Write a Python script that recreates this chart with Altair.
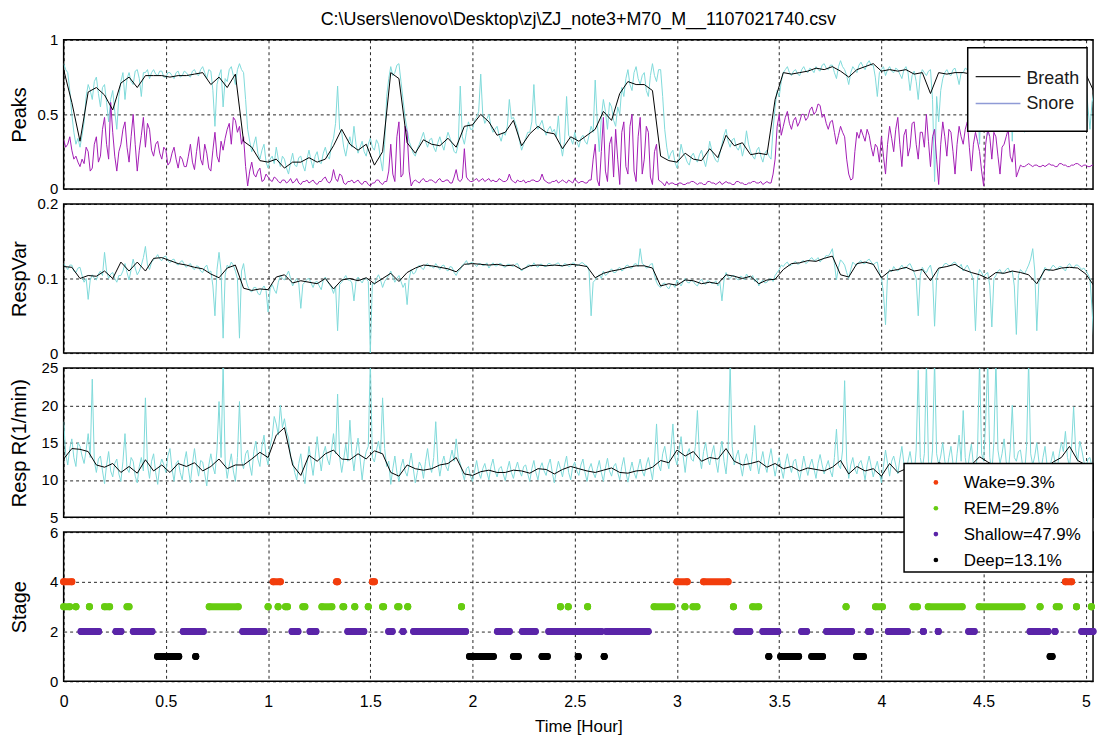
import altair as alt
import pandas as pd

FONT = "Liberation Sans"
FILE_TITLE = r"C:\Users\lenovo\Desktop\zj\ZJ_note3+M70_M__1107021740.csv"

RAW_STEP = 0.01      # hours between raw samples
SMOOTH_STEP = 0.04   # hours between smoothed samples
X_MAX = 5.035
X_TICKS = [0, 0.5, 1, 1.5, 2, 2.5, 3, 3.5, 4, 4.5, 5]

# ---------------- Peaks (one row = 0.2 h) ----------------
peaks_breath_raw = [
    0.84, 0.80, 0.78, 0.66, 0.50, 0.38, 0.30, 0.34, 0.28, 0.36, 0.45, 0.62, 0.70, 0.66, 0.60, 0.72, 0.75, 0.64, 0.55, 0.68,
    0.70, 0.58, 0.45, 0.60, 0.66, 0.52, 0.40, 0.62, 0.72, 0.78, 0.60, 0.74, 0.78, 0.72, 0.70, 0.79, 0.80, 0.74, 0.62, 0.78,
    0.78, 0.80, 0.74, 0.78, 0.80, 0.77, 0.76, 0.79, 0.79, 0.75, 0.75, 0.78, 0.78, 0.76, 0.74, 0.78, 0.79, 0.75, 0.76, 0.79,
    0.78, 0.76, 0.75, 0.79, 0.80, 0.77, 0.76, 0.80, 0.82, 0.78, 0.74, 0.80, 0.79, 0.66, 0.42, 0.70, 0.76, 0.80, 0.55, 0.74,
    0.72, 0.80, 0.82, 0.76, 0.70, 0.80, 0.84, 0.80, 0.78, 0.60, 0.40, 0.32, 0.25, 0.30, 0.35, 0.24, 0.20, 0.26, 0.30, 0.18,
    0.14, 0.20, 0.22, 0.17, 0.28, 0.20, 0.15, 0.22, 0.20, 0.14, 0.10, 0.18, 0.24, 0.16, 0.15, 0.21, 0.22, 0.16, 0.12, 0.20,
    0.26, 0.19, 0.14, 0.22, 0.25, 0.18, 0.17, 0.24, 0.28, 0.22, 0.20, 0.30, 0.34, 0.44, 0.69, 0.40, 0.38, 0.28, 0.22, 0.30,
    0.35, 0.28, 0.42, 0.30, 0.24, 0.28, 0.32, 0.25, 0.22, 0.30, 0.34, 0.28, 0.26, 0.33, 0.30, 0.20, 0.12, 0.30, 0.62, 0.74,
    0.82, 0.76, 0.78, 0.83, 0.84, 0.72, 0.60, 0.48, 0.40, 0.32, 0.28, 0.24, 0.22, 0.27, 0.30, 0.34, 0.38, 0.32, 0.28, 0.33,
    0.34, 0.28, 0.25, 0.31, 0.35, 0.30, 0.26, 0.33, 0.38, 0.34, 0.30, 0.25, 0.24, 0.30, 0.69, 0.35, 0.30, 0.38, 0.45, 0.40,
    0.40, 0.46, 0.48, 0.52, 0.77, 0.50, 0.44, 0.47, 0.50, 0.42, 0.38, 0.40, 0.42, 0.36, 0.32, 0.38, 0.36, 0.42, 0.60, 0.47,
    0.48, 0.44, 0.40, 0.32, 0.26, 0.30, 0.34, 0.38, 0.38, 0.45, 0.70, 0.44, 0.40, 0.43, 0.46, 0.40, 0.36, 0.40, 0.42, 0.38,
    0.40, 0.35, 0.49, 0.30, 0.22, 0.32, 0.62, 0.36, 0.34, 0.30, 0.38, 0.32, 0.28, 0.34, 0.36, 0.32, 0.30, 0.36, 0.42, 0.38,
    0.73, 0.45, 0.25, 0.48, 0.60, 0.52, 0.40, 0.58, 0.55, 0.46, 0.42, 0.55, 0.50, 0.68, 0.62, 0.74, 0.80, 0.70, 0.66, 0.78,
    0.82, 0.74, 0.70, 0.76, 0.78, 0.66, 0.62, 0.76, 0.84, 0.76, 0.72, 0.80, 0.80, 0.62, 0.40, 0.28, 0.20, 0.24, 0.26, 0.18,
    0.14, 0.20, 0.30, 0.24, 0.22, 0.18, 0.16, 0.22, 0.24, 0.20, 0.18, 0.23, 0.26, 0.20, 0.15, 0.22, 0.32, 0.26, 0.22, 0.19,
    0.18, 0.24, 0.30, 0.36, 0.40, 0.32, 0.28, 0.33, 0.34, 0.28, 0.26, 0.30, 0.22, 0.28, 0.39, 0.30, 0.25, 0.22, 0.20, 0.26,
    0.28, 0.22, 0.18, 0.24, 0.26, 0.22, 0.20, 0.40, 0.55, 0.66, 0.62, 0.72, 0.78, 0.80, 0.82, 0.78, 0.76, 0.79, 0.80, 0.77,
    0.76, 0.80, 0.82, 0.79, 0.78, 0.81, 0.80, 0.78, 0.82, 0.80, 0.79, 0.83, 0.84, 0.81, 0.80, 0.83, 0.83, 0.78, 0.74, 0.82,
    0.86, 0.82, 0.80, 0.76, 0.70, 0.78, 0.82, 0.80, 0.78, 0.83, 0.85, 0.82, 0.80, 0.84, 0.86, 0.83, 0.83, 0.75, 0.62, 0.78,
    0.80, 0.82, 0.76, 0.80, 0.82, 0.79, 0.78, 0.81, 0.80, 0.77, 0.74, 0.80, 0.82, 0.78, 0.66, 0.76, 0.79, 0.72, 0.60, 0.76,
    0.80, 0.78, 0.76, 0.79, 0.80, 0.60, 0.05, 0.62, 0.45, 0.66, 0.74, 0.78, 0.80, 0.77, 0.76, 0.80, 0.81, 0.76, 0.70, 0.78,
    0.78, 0.81, 0.80, 0.77, 0.76, 0.80, 0.80, 0.62, 0.30, 0.72, 0.80, 0.58, 0.36, 0.74, 0.78, 0.80, 0.80, 0.64, 0.45, 0.76,
    0.78, 0.80, 0.82, 0.66, 0.32, 0.70, 0.79, 0.81, 0.80, 0.62, 0.38, 0.72, 0.78, 0.80, 0.80, 0.77, 0.76, 0.79, 0.80, 0.78,
    0.78, 0.80, 0.80, 0.77, 0.76, 0.79, 0.79, 0.81, 0.80, 0.78, 0.78, 0.80, 0.76, 0.79, 0.80, 0.77, 0.78, 0.80, 0.80, 0.76,
    0.72, 0.55, 0.40, 0.58, 0.66,
]
peaks_snore_raw = [
    0.33, 0.28, 0.30, 0.35, 0.26, 0.20, 0.22, 0.18, 0.15, 0.20, 0.17, 0.28, 0.25, 0.12, 0.14, 0.30, 0.35, 0.18, 0.22, 0.40,
    0.48, 0.30, 0.20, 0.58, 0.38, 0.22, 0.12, 0.25, 0.30, 0.40, 0.45, 0.28, 0.18, 0.35, 0.50, 0.30, 0.12, 0.26, 0.36, 0.48,
    0.28, 0.44, 0.40, 0.26, 0.22, 0.30, 0.32, 0.24, 0.20, 0.28, 0.26, 0.16, 0.18, 0.24, 0.28, 0.20, 0.14, 0.22, 0.20, 0.15,
    0.15, 0.22, 0.30, 0.18, 0.13, 0.25, 0.35, 0.20, 0.16, 0.30, 0.24, 0.14, 0.12, 0.26, 0.38, 0.22, 0.18, 0.32, 0.26, 0.34,
    0.40, 0.44, 0.30, 0.48, 0.46, 0.38, 0.42, 0.30, 0.35, 0.15, 0.02, 0.12, 0.18, 0.10, 0.08, 0.12, 0.14, 0.05, 0.06, 0.10,
    0.08, 0.06, 0.05, 0.08, 0.07, 0.05, 0.04, 0.06, 0.06, 0.04, 0.05, 0.07, 0.04, 0.05, 0.07, 0.04, 0.03, 0.05, 0.05, 0.06,
    0.04, 0.05, 0.06, 0.04, 0.03, 0.05, 0.05, 0.07, 0.08, 0.05, 0.04, 0.06, 0.13, 0.07, 0.05, 0.10, 0.09, 0.04, 0.03, 0.05,
    0.05, 0.06, 0.04, 0.05, 0.06, 0.04, 0.03, 0.05, 0.05, 0.03, 0.02, 0.04, 0.04, 0.06, 0.06, 0.04, 0.03, 0.05, 0.05, 0.12,
    0.30, 0.10, 0.05, 0.35, 0.45, 0.08, 0.10, 0.42, 0.38, 0.12, 0.02, 0.05, 0.06, 0.05, 0.04, 0.06, 0.07, 0.05, 0.05, 0.06,
    0.06, 0.05, 0.04, 0.06, 0.07, 0.05, 0.05, 0.06, 0.06, 0.04, 0.04, 0.08, 0.13, 0.06, 0.05, 0.07, 0.27, 0.08, 0.06, 0.05,
    0.05, 0.06, 0.07, 0.05, 0.06, 0.07, 0.05, 0.06, 0.07, 0.05, 0.06, 0.05, 0.05, 0.07, 0.06, 0.05, 0.05, 0.06, 0.10, 0.06,
    0.05, 0.04, 0.06, 0.05, 0.05, 0.06, 0.04, 0.05, 0.05, 0.06, 0.06, 0.05, 0.05, 0.06, 0.10, 0.06, 0.05, 0.04, 0.04, 0.05,
    0.05, 0.06, 0.04, 0.05, 0.06, 0.05, 0.04, 0.06, 0.05, 0.04, 0.07, 0.05, 0.04, 0.05, 0.05, 0.04, 0.04, 0.06, 0.06, 0.20,
    0.30, 0.06, 0.02, 0.25, 0.48, 0.12, 0.05, 0.30, 0.35, 0.08, 0.40, 0.20, 0.03, 0.38, 0.45, 0.15, 0.10, 0.42, 0.50, 0.12,
    0.05, 0.35, 0.48, 0.10, 0.20, 0.42, 0.38, 0.08, 0.03, 0.25, 0.30, 0.06, 0.05, 0.04, 0.02, 0.05, 0.03, 0.04, 0.04, 0.03,
    0.03, 0.04, 0.04, 0.03, 0.03, 0.04, 0.04, 0.05, 0.05, 0.04, 0.03, 0.04, 0.04, 0.03, 0.03, 0.05, 0.05, 0.04, 0.04, 0.03,
    0.04, 0.05, 0.03, 0.04, 0.05, 0.04, 0.04, 0.03, 0.03, 0.05, 0.05, 0.04, 0.04, 0.03, 0.03, 0.04, 0.04, 0.05, 0.05, 0.04,
    0.04, 0.05, 0.03, 0.04, 0.05, 0.04, 0.04, 0.10, 0.20, 0.42, 0.50, 0.36, 0.42, 0.48, 0.52, 0.44, 0.40, 0.46, 0.48, 0.42,
    0.45, 0.50, 0.50, 0.46, 0.48, 0.53, 0.55, 0.50, 0.52, 0.57, 0.56, 0.48, 0.50, 0.44, 0.40, 0.45, 0.46, 0.38, 0.30, 0.36,
    0.42, 0.38, 0.35, 0.20, 0.10, 0.06, 0.07, 0.25, 0.38, 0.34, 0.40, 0.36, 0.32, 0.40, 0.36, 0.28, 0.22, 0.30, 0.28, 0.18,
    0.35, 0.22, 0.10, 0.30, 0.42, 0.34, 0.25, 0.40, 0.48, 0.30, 0.15, 0.36, 0.40, 0.22, 0.28, 0.44, 0.45, 0.30, 0.20, 0.38,
    0.38, 0.28, 0.50, 0.32, 0.15, 0.35, 0.40, 0.20, 0.03, 0.30, 0.45, 0.35, 0.22, 0.40, 0.38, 0.25, 0.10, 0.30, 0.42, 0.35,
    0.30, 0.40, 0.45, 0.28, 0.12, 0.30, 0.38, 0.32, 0.25, 0.12, 0.02, 0.30, 0.40, 0.35, 0.20, 0.38, 0.35, 0.22, 0.10, 0.28,
    0.30, 0.35, 0.40, 0.22, 0.18, 0.30, 0.08, 0.12, 0.16, 0.15, 0.15, 0.16, 0.17, 0.16, 0.15, 0.16, 0.16, 0.15, 0.15, 0.16,
    0.15, 0.16, 0.17, 0.16, 0.16, 0.15, 0.15, 0.17, 0.17, 0.16, 0.16, 0.15, 0.15, 0.16, 0.16, 0.17, 0.17, 0.16, 0.15, 0.16,
    0.16, 0.15, 0.15, 0.16, 0.16,
]
peaks_breath_smooth = [
    0.80, 0.58, 0.32, 0.65, 0.68, 0.63, 0.53, 0.71, 0.75, 0.68,
    0.76, 0.76, 0.76, 0.75, 0.76, 0.76, 0.77, 0.78, 0.70, 0.75,
    0.68, 0.77, 0.32, 0.28, 0.19, 0.18, 0.20, 0.14, 0.18, 0.18,
    0.21, 0.18, 0.20, 0.29, 0.40, 0.30, 0.26, 0.30, 0.16, 0.25,
    0.78, 0.74, 0.31, 0.24, 0.33, 0.30, 0.29, 0.34, 0.28, 0.42,
    0.43, 0.50, 0.45, 0.36, 0.38, 0.46, 0.29, 0.37, 0.42, 0.38,
    0.37, 0.27, 0.35, 0.32, 0.36, 0.40, 0.52, 0.46, 0.64, 0.72,
    0.70, 0.70, 0.66, 0.22, 0.19, 0.18, 0.24, 0.20, 0.19, 0.27,
    0.21, 0.36, 0.29, 0.31, 0.23, 0.24, 0.23, 0.60, 0.78, 0.77,
    0.78, 0.79, 0.81, 0.80, 0.82, 0.79, 0.75, 0.80, 0.82, 0.84,
    0.79, 0.80, 0.79, 0.80, 0.77, 0.78, 0.64, 0.78, 0.77, 0.78,
    0.78, 0.77, 0.79, 0.78, 0.77, 0.79, 0.78, 0.77, 0.78, 0.79,
    0.78, 0.77, 0.78, 0.79, 0.78, 0.77, 0.65,
]

# ---------------- RespVar ----------------
respvar_raw = [
    0.120, 0.116, 0.112, 0.118, 0.118, 0.110, 0.108, 0.114, 0.115, 0.104, 0.095, 0.100, 0.072, 0.098, 0.105, 0.100, 0.098, 0.106, 0.110, 0.104,
    0.135, 0.110, 0.100, 0.106, 0.108, 0.100, 0.095, 0.104, 0.104, 0.110, 0.120, 0.108, 0.098, 0.112, 0.126, 0.114, 0.105, 0.110, 0.118, 0.128,
    0.143, 0.118, 0.112, 0.122, 0.125, 0.128, 0.132, 0.126, 0.124, 0.129, 0.130, 0.124, 0.121, 0.125, 0.126, 0.120, 0.118, 0.122, 0.124, 0.119,
    0.115, 0.118, 0.120, 0.114, 0.112, 0.117, 0.116, 0.110, 0.108, 0.115, 0.118, 0.108, 0.110, 0.090, 0.050, 0.112, 0.135, 0.110, 0.020, 0.105,
    0.118, 0.115, 0.122, 0.118, 0.110, 0.100, 0.020, 0.110, 0.120, 0.100, 0.090, 0.084, 0.082, 0.088, 0.088, 0.080, 0.078, 0.086, 0.090, 0.084,
    0.055, 0.086, 0.092, 0.085, 0.080, 0.095, 0.104, 0.100, 0.098, 0.104, 0.110, 0.100, 0.090, 0.096, 0.100, 0.094, 0.060, 0.092, 0.095, 0.099,
    0.100, 0.094, 0.088, 0.095, 0.096, 0.090, 0.085, 0.098, 0.102, 0.096, 0.092, 0.088, 0.080, 0.090, 0.030, 0.092, 0.095, 0.100, 0.104, 0.098,
    0.098, 0.094, 0.070, 0.096, 0.102, 0.098, 0.094, 0.100, 0.100, 0.096, 0.000, 0.094, 0.092, 0.100, 0.105, 0.098, 0.088, 0.096, 0.100, 0.104,
    0.110, 0.102, 0.095, 0.100, 0.104, 0.096, 0.088, 0.094, 0.065, 0.100, 0.112, 0.106, 0.108, 0.115, 0.118, 0.114, 0.112, 0.118, 0.120, 0.116,
    0.116, 0.114, 0.120, 0.116, 0.112, 0.117, 0.118, 0.112, 0.110, 0.116, 0.115, 0.108, 0.104, 0.110, 0.112, 0.118, 0.120, 0.124, 0.118, 0.121,
    0.122, 0.119, 0.116, 0.120, 0.120, 0.117, 0.118, 0.121, 0.114, 0.118, 0.121, 0.117, 0.117, 0.120, 0.120, 0.116, 0.115, 0.119, 0.119, 0.117,
    0.116, 0.119, 0.120, 0.114, 0.110, 0.113, 0.114, 0.118, 0.118, 0.116, 0.121, 0.117, 0.115, 0.119, 0.119, 0.116, 0.116, 0.120, 0.120, 0.117,
    0.118, 0.120, 0.121, 0.117, 0.116, 0.120, 0.119, 0.116, 0.117, 0.121, 0.120, 0.117, 0.118, 0.121, 0.121, 0.118, 0.117, 0.110, 0.050, 0.095,
    0.098, 0.102, 0.105, 0.100, 0.110, 0.104, 0.106, 0.110, 0.113, 0.108, 0.108, 0.113, 0.115, 0.110, 0.112, 0.117, 0.118, 0.114, 0.114, 0.119,
    0.120, 0.116, 0.140, 0.120, 0.118, 0.114, 0.115, 0.119, 0.120, 0.104, 0.095, 0.090, 0.088, 0.093, 0.094, 0.089, 0.086, 0.092, 0.092, 0.088,
    0.098, 0.094, 0.090, 0.096, 0.100, 0.095, 0.094, 0.098, 0.096, 0.092, 0.090, 0.096, 0.099, 0.094, 0.092, 0.097, 0.096, 0.093, 0.094, 0.097,
    0.090, 0.095, 0.070, 0.098, 0.108, 0.102, 0.100, 0.104, 0.104, 0.100, 0.098, 0.103, 0.102, 0.098, 0.106, 0.102, 0.100, 0.104, 0.096, 0.100,
    0.090, 0.095, 0.098, 0.094, 0.095, 0.099, 0.100, 0.096, 0.104, 0.108, 0.112, 0.118, 0.116, 0.120, 0.122, 0.117, 0.118, 0.121, 0.123, 0.119,
    0.120, 0.123, 0.124, 0.120, 0.122, 0.126, 0.128, 0.124, 0.125, 0.128, 0.122, 0.126, 0.127, 0.131, 0.130, 0.134, 0.140, 0.120, 0.098, 0.115,
    0.125, 0.122, 0.118, 0.108, 0.100, 0.112, 0.122, 0.119, 0.118, 0.122, 0.124, 0.120, 0.120, 0.124, 0.126, 0.122, 0.118, 0.121, 0.122, 0.108,
    0.100, 0.080, 0.038, 0.105, 0.112, 0.109, 0.116, 0.112, 0.110, 0.114, 0.118, 0.113, 0.114, 0.118, 0.120, 0.114, 0.108, 0.100, 0.050, 0.104,
    0.115, 0.110, 0.108, 0.114, 0.118, 0.104, 0.036, 0.100, 0.112, 0.114, 0.116, 0.120, 0.120, 0.117, 0.118, 0.121, 0.122, 0.118, 0.115, 0.119,
    0.110, 0.114, 0.118, 0.112, 0.106, 0.098, 0.030, 0.100, 0.112, 0.108, 0.102, 0.106, 0.108, 0.090, 0.035, 0.100, 0.104, 0.110, 0.112, 0.106,
    0.108, 0.112, 0.114, 0.108, 0.110, 0.090, 0.025, 0.104, 0.112, 0.109, 0.106, 0.112, 0.118, 0.126, 0.140, 0.110, 0.030, 0.095, 0.100, 0.108,
    0.115, 0.112, 0.110, 0.114, 0.118, 0.115, 0.112, 0.116, 0.116, 0.113, 0.110, 0.117, 0.120, 0.116, 0.114, 0.118, 0.118, 0.115, 0.112, 0.114,
    0.110, 0.106, 0.100, 0.060, 0.010,
]
respvar_smooth = [
    0.116, 0.115, 0.100, 0.104, 0.103, 0.110, 0.100, 0.122, 0.110, 0.122,
    0.110, 0.127, 0.128, 0.124, 0.120, 0.118, 0.115, 0.113, 0.106, 0.101,
    0.114, 0.118, 0.087, 0.084, 0.086, 0.085, 0.102, 0.105, 0.094, 0.097,
    0.095, 0.093, 0.100, 0.086, 0.098, 0.100, 0.097, 0.101, 0.093, 0.100,
    0.107, 0.096, 0.108, 0.114, 0.118, 0.117, 0.115, 0.113, 0.109, 0.119,
    0.120, 0.119, 0.118, 0.119, 0.117, 0.118, 0.112, 0.117, 0.118, 0.117,
    0.118, 0.117, 0.119, 0.118, 0.116, 0.101, 0.107, 0.110, 0.112, 0.115,
    0.117, 0.117, 0.114, 0.090, 0.093, 0.091, 0.098, 0.097, 0.093, 0.095,
    0.093, 0.105, 0.103, 0.100, 0.103, 0.093, 0.098, 0.099, 0.112, 0.120,
    0.121, 0.124, 0.123, 0.127, 0.130, 0.105, 0.102, 0.120, 0.122, 0.119,
    0.101, 0.110, 0.112, 0.115, 0.110, 0.112, 0.097, 0.114, 0.116, 0.119,
    0.112, 0.108, 0.105, 0.100, 0.108, 0.107, 0.110, 0.108, 0.105, 0.093,
    0.112, 0.111, 0.114, 0.115, 0.114, 0.106, 0.090,
]

# ---------------- Respiration rate (1/min) ----------------
resprate_raw = [
    17.8, 13.5, 12.0, 14.2, 15.5, 13.0, 11.8, 15.0, 14.5, 13.2, 12.2, 14.0, 16.2, 13.0, 23.5, 12.5, 11.0, 12.8, 13.2, 11.2,
    9.5, 12.0, 13.8, 11.2, 10.4, 12.2, 12.8, 10.8, 9.8, 12.5, 16.2, 11.5, 11.0, 13.0, 12.5, 10.5, 9.6, 11.8, 13.0, 11.2,
    21.0, 12.0, 10.2, 12.5, 13.5, 11.0, 9.4, 11.8, 12.8, 12.0, 11.0, 13.2, 14.2, 11.5, 9.8, 12.2, 12.6, 11.0, 10.0, 12.4,
    13.8, 11.5, 9.6, 12.2, 14.2, 12.0, 10.5, 12.6, 12.4, 10.8, 9.2, 12.0, 13.5, 11.8, 10.8, 14.0, 20.5, 13.0, 25.5, 12.5,
    10.2, 12.0, 13.5, 11.2, 9.8, 13.0, 20.5, 12.5, 11.5, 13.5, 14.0, 12.0, 10.6, 13.8, 15.2, 12.8, 11.8, 14.5, 16.0, 13.2,
    12.0, 14.5, 15.8, 18.5, 17.5, 16.0, 20.0, 17.0, 18.2, 16.5, 15.6, 13.0, 12.5, 11.0, 10.0, 12.2, 13.5, 11.0, 9.5, 12.0,
    14.5, 12.5, 10.6, 13.0, 15.8, 13.2, 11.2, 13.5, 14.5, 12.8, 12.0, 14.0, 16.2, 13.5, 21.5, 13.0, 11.0, 12.8, 14.8, 12.5,
    18.0, 13.5, 11.2, 13.8, 15.6, 12.8, 10.0, 12.5, 13.8, 14.5, 26.0, 13.0, 12.4, 14.0, 15.2, 13.5, 21.0, 14.2, 11.8, 12.5,
    9.4, 11.5, 13.2, 11.0, 9.8, 11.8, 12.8, 11.2, 10.5, 12.0, 13.6, 11.5, 9.6, 11.0, 12.4, 11.8, 10.2, 12.5, 14.2, 12.0,
    11.0, 13.0, 17.8, 12.5, 10.5, 12.2, 13.2, 11.8, 11.2, 12.8, 14.0, 12.5, 15.5, 13.0, 12.2, 11.0, 10.0, 11.5, 11.8, 10.5,
    9.8, 11.2, 12.6, 11.0, 10.2, 11.5, 12.2, 11.0, 10.0, 11.8, 12.8, 11.2, 10.4, 11.5, 11.8, 10.8, 9.9, 11.4, 12.5, 11.0,
    10.2, 11.5, 12.4, 11.2, 10.5, 11.8, 12.0, 10.8, 9.8, 11.5, 12.6, 11.0, 10.0, 11.6, 12.3, 11.2, 10.6, 12.0, 12.8, 11.0,
    9.6, 11.2, 12.5, 11.5, 10.4, 12.0, 13.2, 11.0, 10.0, 11.8, 12.4, 11.2, 10.6, 12.0, 12.8, 11.0, 9.8, 11.5, 12.2, 11.0,
    10.3, 11.5, 12.6, 11.0, 9.8, 11.6, 12.9, 11.2, 10.5, 11.8, 12.2, 11.0, 10.0, 11.8, 13.0, 11.0, 9.7, 11.2, 12.4, 11.0,
    10.2, 11.6, 12.8, 11.2, 10.5, 12.0, 13.0, 11.5, 10.0, 12.5, 17.5, 12.0, 11.2, 13.5, 14.5, 12.8, 11.5, 14.0, 17.5, 13.0,
    12.0, 14.0, 15.8, 13.2, 11.0, 13.5, 14.2, 12.8, 12.5, 14.5, 19.3, 13.0, 11.5, 13.8, 15.0, 13.0, 12.0, 13.5, 14.6, 12.5,
    11.0, 13.5, 15.2, 12.5, 10.8, 14.0, 25.5, 14.5, 12.0, 13.2, 14.0, 12.0, 10.5, 12.5, 13.5, 12.2, 11.2, 13.8, 17.3, 12.5,
    10.8, 12.5, 13.8, 12.0, 11.0, 12.8, 14.2, 12.2, 10.5, 12.0, 13.0, 11.5, 10.2, 12.2, 13.5, 12.0, 11.0, 12.5, 12.8, 11.2,
    10.0, 11.5, 13.2, 11.8, 10.6, 12.0, 12.8, 11.5, 10.2, 12.2, 13.4, 12.0, 10.8, 11.8, 12.6, 11.2, 10.4, 13.0, 16.8, 12.0,
    11.5, 14.0, 23.3, 12.5, 10.2, 12.0, 13.0, 11.5, 10.8, 12.2, 12.6, 11.5, 10.0, 12.0, 13.2, 11.8, 10.4, 11.6, 12.5, 11.0,
    9.6, 11.8, 14.0, 12.2, 10.5, 12.5, 13.2, 12.0, 10.8, 12.8, 14.5, 12.2, 11.0, 12.5, 13.8, 12.0, 10.6, 14.0, 24.7, 13.0,
    11.5, 13.5, 26.0, 12.5, 10.8, 14.0, 26.0, 13.5, 12.0, 13.2, 15.0, 12.5, 11.2, 13.0, 14.5, 12.2, 10.8, 13.5, 16.0, 12.5,
    19.3, 13.0, 11.0, 13.2, 14.8, 12.0, 10.5, 14.0, 26.0, 13.5, 12.5, 18.0, 26.0, 13.0, 11.0, 15.0, 26.0, 14.0, 12.2, 13.5,
    15.5, 12.5, 11.0, 14.0, 20.0, 13.0, 12.5, 13.8, 14.0, 12.0, 10.8, 14.5, 26.0, 13.5, 12.0, 13.2, 15.0, 12.5, 11.2, 13.0,
    14.5, 12.0, 10.8, 12.5, 13.8, 12.2, 11.5, 13.5, 15.0, 13.8, 16.5, 13.0, 11.8, 14.5, 19.8, 14.0, 12.5, 15.2, 14.0, 12.5,
    11.5, 12.8, 13.0, 11.8, 11.0,
]
resprate_smooth = [
    12.8, 14.2, 14.1, 13.8, 12.0, 11.7, 12.2, 11.0, 11.8, 10.9,
    12.7, 11.2, 12.0, 11.0, 12.2, 11.8, 12.3, 11.2, 11.8, 12.8,
    11.5, 12.0, 12.0, 12.8, 13.7, 13.0, 16.0, 17.0, 12.0, 10.6,
    13.3, 12.5, 13.5, 14.0, 12.8, 12.7, 13.5, 12.8, 13.9, 13.5,
    11.0, 10.5, 12.0, 11.5, 11.3, 11.5, 12.0, 12.2, 13.0, 10.8,
    10.6, 11.1, 11.3, 11.0, 11.0, 11.3, 11.2, 10.9, 11.5, 11.4,
    10.8, 11.4, 11.8, 11.5, 11.2, 11.0, 11.3, 11.6, 11.0, 10.9,
    11.2, 11.3, 11.7, 12.6, 12.3, 14.0, 13.2, 13.8, 12.5, 13.0,
    12.8, 14.2, 12.5, 12.0, 12.2, 12.5, 11.7, 12.2, 11.5, 11.8,
    11.2, 11.6, 11.4, 11.2, 11.7, 12.6, 10.8, 11.8, 11.2, 11.5,
    10.5, 12.2, 11.0, 11.5, 11.8, 12.0, 11.6, 12.3, 12.0, 11.8,
    12.2, 12.0, 13.1, 12.4, 11.8, 12.0, 11.6, 12.2, 11.8, 12.0,
    11.5, 12.4, 13.0, 14.5, 12.6, 12.0, 11.5,
]

# ---------------- Sleep stages: runs of [start hour, end hour] ----------------
WAKE_RUNS = [[0.0, 0.04], [1.025, 1.06], [1.335, 1.34], [1.51, 1.52],
             [3.0, 3.05], [3.13, 3.25], [4.90, 4.93]]
REM_RUNS = [[0.0, 0.03], [0.06, 0.06], [0.126, 0.126], [0.20, 0.225], [0.31, 0.32],
            [0.712, 0.854], [1.0, 1.0], [1.049, 1.049], [1.085, 1.095], [1.17, 1.18],
            [1.263, 1.312], [1.366, 1.37], [1.424, 1.424], [1.49, 1.49], [1.56, 1.565],
            [1.634, 1.64], [1.683, 1.683], [1.946, 1.946], [2.43, 2.43], [2.468, 2.468],
            [2.563, 2.563], [2.888, 2.976], [3.039, 3.039], [3.078, 3.098], [3.276, 3.276],
            [3.37, 3.40], [3.827, 3.827], [3.971, 4.005], [4.154, 4.176], [4.229, 4.395],
            [4.478, 4.688], [4.776, 4.776], [4.855, 4.87], [4.954, 4.954], [5.027, 5.027]]
SHALLOW_RUNS = [[0.085, 0.171], [0.256, 0.28], [0.341, 0.432], [0.585, 0.683],
                [0.876, 0.98], [1.117, 1.146], [1.205, 1.234], [1.39, 1.468],
                [1.59, 1.607], [1.66, 1.66], [1.712, 1.966], [2.122, 2.18],
                [2.244, 2.307], [2.373, 2.63], [2.655, 2.859], [3.293, 3.356],
                [3.42, 3.493], [3.61, 3.634], [3.732, 3.854], [3.937, 3.946],
                [4.034, 4.127], [4.205, 4.205], [4.278, 4.278], [4.427, 4.454],
                [4.727, 4.815], [4.849, 4.849], [4.98, 5.035]]
DEEP_RUNS = [[0.459, 0.563], [0.646, 0.646], [1.985, 2.102], [2.2, 2.224],
             [2.34, 2.366], [2.517, 2.517], [2.644, 2.644], [3.449, 3.449],
             [3.507, 3.595], [3.659, 3.712], [3.878, 3.912], [4.825, 4.835]]

STAGE_NAMES = ["Wake", "REM", "Shallow", "Deep"]
STAGE_LEVELS = [4, 3, 2, 1]
STAGE_SHARES = ["9.3%", "29.8%", "47.9%", "13.1%"]
STAGE_COLORS = ["#f23d0c", "#66cc10", "#5a24a8", "#000000"]

CYAN = "#7fdada"
SNORE = "#a21db4"
SNORE_KEY = "#8f9bd6"
W, H = 1035, 150


def sampled(values, step):
    return pd.DataFrame({"t": [round(i * step, 4) for i in range(len(values))], "v": values})


x_scale = alt.Scale(domain=[0, X_MAX], nice=False, zero=False)


def x_axis(bottom):
    if bottom:
        return alt.Axis(values=X_TICKS, format="~g", title="Time [Hour]",
                        labelFontSize=16, titleFontSize=17, labelPadding=12, titlePadding=9)
    return alt.Axis(values=X_TICKS, labels=False, title=None)


def y_axis(ticks, title):
    return alt.Axis(values=ticks, format="~g", title=title, titleFontSize=20,
                    titleX=-44, titleY=H / 2, titleAlign="center",
                    titleBaseline="middle", titleAngle=270)


def line_layer(df, color, domain, ticks, title, bottom=False):
    # every layer carries the same axis spec so the panel keeps one merged axis
    return alt.Chart(df).mark_line(color=color, strokeWidth=1, clip=True).encode(
        x=alt.X("t:Q", scale=x_scale, axis=x_axis(bottom)),
        y=alt.Y("v:Q", scale=alt.Scale(domain=domain, nice=False, zero=False),
                axis=y_axis(ticks, title)),
    )


one_row = pd.DataFrame({"k": [0]})

# ---- Panel 1: Peaks with a Breath / Snore key ----
peaks_key = [
    alt.Chart(one_row).mark_rect(fill="white", stroke="black", strokeWidth=1.5).encode(
        x=alt.value(909), x2=alt.value(1029), y=alt.value(8), y2=alt.value(92)),
    alt.Chart(one_row).mark_rule(color="#222222", strokeWidth=1.2).encode(
        x=alt.value(917), x2=alt.value(962), y=alt.value(37)),
    alt.Chart(one_row).mark_rule(color=SNORE_KEY, strokeWidth=1.5).encode(
        x=alt.value(917), x2=alt.value(962), y=alt.value(64)),
    alt.Chart(one_row).mark_text(align="left", baseline="middle", font=FONT, fontSize=18,
                                 color="#1a1a1a").encode(
        x=alt.value(968), y=alt.value(39), text=alt.value("Breath")),
    alt.Chart(one_row).mark_text(align="left", baseline="middle", font=FONT, fontSize=18,
                                 color="#1a1a1a").encode(
        x=alt.value(968), y=alt.value(65), text=alt.value("Snore")),
]
pk_ticks = [0, 0.5, 1]
peaks_panel = alt.layer(
    line_layer(sampled(peaks_breath_raw, RAW_STEP), CYAN, [0, 1], pk_ticks, "Peaks"),
    line_layer(sampled(peaks_snore_raw, RAW_STEP), SNORE, [0, 1], pk_ticks, "Peaks"),
    line_layer(sampled(peaks_breath_smooth, SMOOTH_STEP), "black", [0, 1], pk_ticks, "Peaks"),
    *peaks_key,
).properties(width=W, height=H, title=alt.TitleParams(FILE_TITLE, anchor="middle"))

# ---- Panel 2: RespVar ----
rv_ticks = [0, 0.1, 0.2]
respvar_panel = alt.layer(
    line_layer(sampled(respvar_raw, RAW_STEP), CYAN, [0, 0.2], rv_ticks, "RespVar"),
    line_layer(sampled(respvar_smooth, SMOOTH_STEP), "black", [0, 0.2], rv_ticks, "RespVar"),
).properties(width=W, height=H)

# ---- Panel 3: respiration rate ----
rr_ticks = [5, 10, 15, 20, 25]
resprate_panel = alt.layer(
    line_layer(sampled(resprate_raw, RAW_STEP), CYAN, [5, 25], rr_ticks, "Resp R(1/min)"),
    line_layer(sampled(resprate_smooth, SMOOTH_STEP), "black", [5, 25], rr_ticks, "Resp R(1/min)"),
).properties(width=W, height=H)

# ---- Panel 4: hypnogram ----
run_rows = []
for name, level, runs in zip(STAGE_NAMES, STAGE_LEVELS,
                             [WAKE_RUNS, REM_RUNS, SHALLOW_RUNS, DEEP_RUNS]):
    for start, end in runs:
        run_rows.append({"t": start, "t_end": end, "level": level, "stage": name})
runs_df = pd.DataFrame(run_rows)
ends_df = pd.concat([
    runs_df[["t", "level", "stage"]],
    runs_df[["t_end", "level", "stage"]].rename(columns={"t_end": "t"}),
], ignore_index=True)

stage_color = alt.Color("stage:N", scale=alt.Scale(domain=STAGE_NAMES, range=STAGE_COLORS),
                        legend=None)
stage_y = alt.Y("level:Q", scale=alt.Scale(domain=[0, 6], nice=False, zero=False),
                axis=y_axis([0, 2, 4, 6], "Stage"))
stage_x = alt.X("t:Q", scale=x_scale, axis=x_axis(True))

stage_bars = alt.Chart(runs_df).mark_rule(strokeWidth=7, strokeCap="round").encode(
    x=stage_x, x2="t_end:Q", y=stage_y, color=stage_color,
)
stage_dots = alt.Chart(ends_df).mark_circle(size=49, opacity=1).encode(
    x=stage_x, y=stage_y, color=stage_color,
)

stage_key = [
    alt.Chart(one_row).mark_rect(fill="white", stroke="black", strokeWidth=1.5).encode(
        x=alt.value(845), x2=alt.value(1035), y=alt.value(-69), y2=alt.value(40)),
]
for i, (name, share, color) in enumerate(zip(STAGE_NAMES, STAGE_SHARES, STAGE_COLORS)):
    ypos = -50 + i * 26
    stage_key.append(
        alt.Chart(one_row).mark_circle(size=22, opacity=1, color=color).encode(
            x=alt.value(877), y=alt.value(ypos)))
    stage_key.append(
        alt.Chart(one_row).mark_text(align="left", baseline="middle", font=FONT, fontSize=17,
                                     color="black").encode(
            x=alt.value(905), y=alt.value(ypos + 1), text=alt.value(f"{name}={share}")))

stage_panel = alt.layer(stage_bars, stage_dots, *stage_key).properties(width=W, height=H)

chart = alt.vconcat(
    peaks_panel, respvar_panel, resprate_panel, stage_panel, spacing=15, bounds="flush"
).properties(
    padding={"left": 9, "top": 8, "right": 1, "bottom": 2}
).configure(
    background="white"
).configure_axis(
    labelFont=FONT, labelFontSize=15, labelColor="black",
    titleFont=FONT, titleFontSize=17, titleFontWeight="normal", titleColor="black",
    domain=False, ticks=False, grid=True, gridColor="black", gridDash=[3, 3],
    gridWidth=1, gridOpacity=0.85, labelPadding=6, labelFlush=False, labelOverlap=False,
).configure_view(
    stroke="black", strokeWidth=1.5
).configure_title(
    font=FONT, fontSize=18, fontWeight="normal", color="black", offset=0
)

chart.save("out.html", embed_options={"renderer": "svg", "actions": False})
